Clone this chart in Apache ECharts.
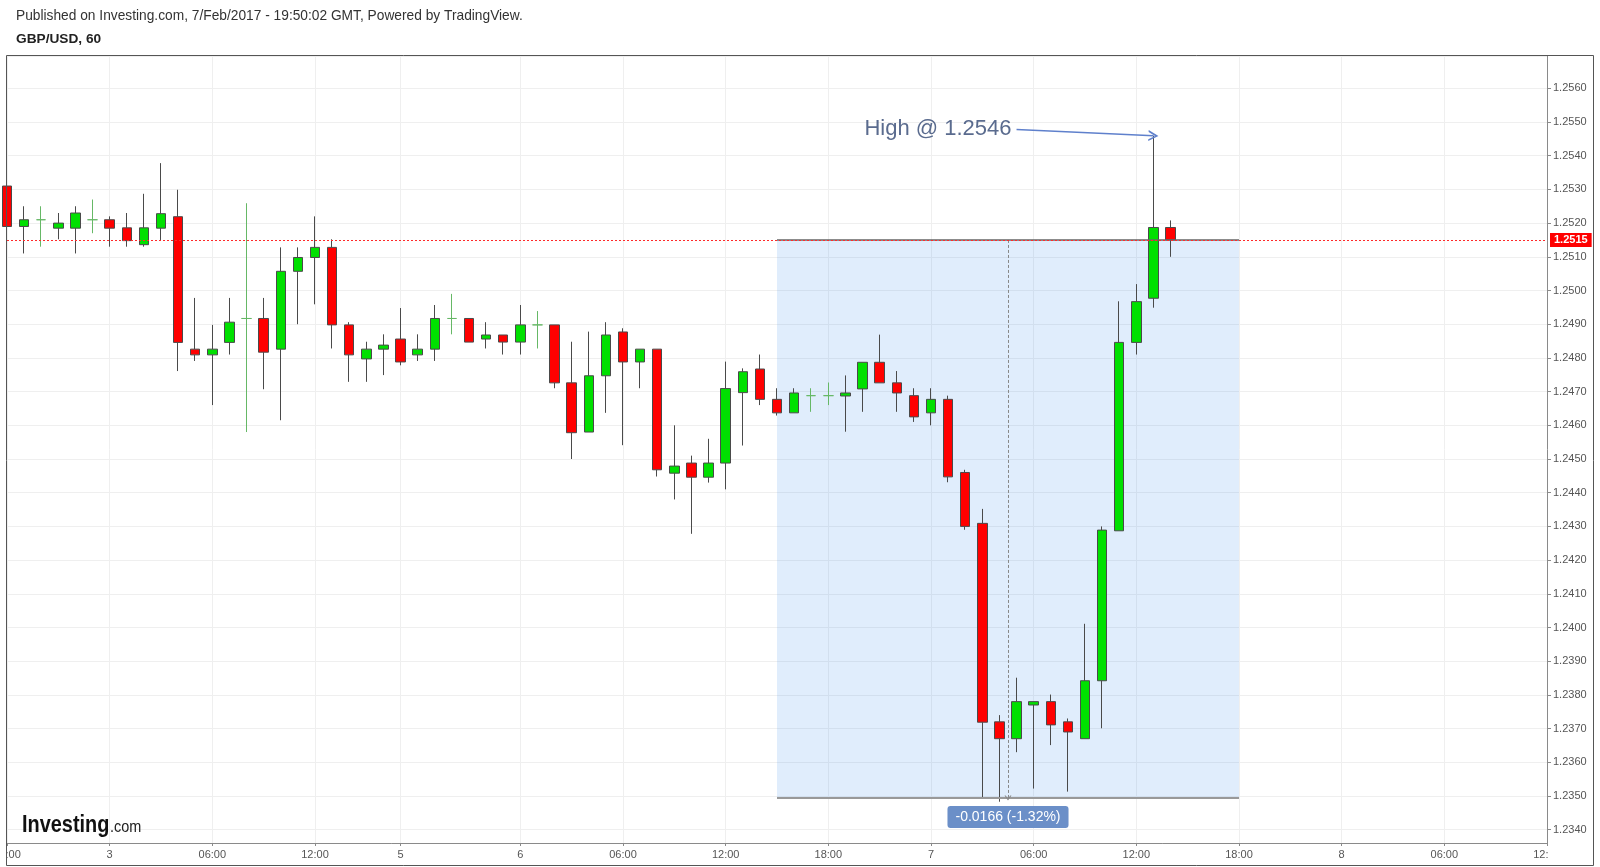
<!DOCTYPE html>
<html><head><meta charset="utf-8">
<script src="https://cdn.jsdelivr.net/npm/echarts@6/dist/echarts.min.js"></script>
<style>html,body{margin:0;padding:0;background:#fff}#c{width:1600px;height:867px}</style>
</head><body><div id="c"></div>
<script>
// Hourly bars (chart time), weekend gap removed as on the original
const categories = [
 'Feb 2 18:00','Feb 2 19:00','Feb 2 20:00','Feb 2 21:00','Feb 2 22:00','Feb 2 23:00',
 'Feb 3 00:00','Feb 3 01:00','Feb 3 02:00','Feb 3 03:00','Feb 3 04:00','Feb 3 05:00','Feb 3 06:00','Feb 3 07:00','Feb 3 08:00','Feb 3 09:00','Feb 3 10:00','Feb 3 11:00','Feb 3 12:00','Feb 3 13:00','Feb 3 14:00','Feb 3 15:00','Feb 3 16:00',
 'Feb 5 17:00','Feb 5 18:00','Feb 5 19:00','Feb 5 20:00','Feb 5 21:00','Feb 5 22:00','Feb 5 23:00',
 'Feb 6 00:00','Feb 6 01:00','Feb 6 02:00','Feb 6 03:00','Feb 6 04:00','Feb 6 05:00','Feb 6 06:00','Feb 6 07:00','Feb 6 08:00','Feb 6 09:00','Feb 6 10:00','Feb 6 11:00','Feb 6 12:00','Feb 6 13:00','Feb 6 14:00','Feb 6 15:00','Feb 6 16:00','Feb 6 17:00','Feb 6 18:00','Feb 6 19:00','Feb 6 20:00','Feb 6 21:00','Feb 6 22:00','Feb 6 23:00',
 'Feb 7 00:00','Feb 7 01:00','Feb 7 02:00','Feb 7 03:00','Feb 7 04:00','Feb 7 05:00','Feb 7 06:00','Feb 7 07:00','Feb 7 08:00','Feb 7 09:00','Feb 7 10:00','Feb 7 11:00','Feb 7 12:00','Feb 7 13:00','Feb 7 14:00','Feb 7 15:00','Feb 7 16:00','Feb 7 17:00','Feb 7 18:00','Feb 7 19:00','Feb 7 20:00','Feb 7 21:00','Feb 7 22:00','Feb 7 23:00',
 'Feb 8 00:00','Feb 8 01:00','Feb 8 02:00','Feb 8 03:00','Feb 8 04:00','Feb 8 05:00','Feb 8 06:00','Feb 8 07:00','Feb 8 08:00','Feb 8 09:00','Feb 8 10:00','Feb 8 11:00','Feb 8 12:00'
];
const opens  = [1.2531,1.2519,1.2521,1.25185,1.25185,1.2521,1.2521,1.25186,1.25136,1.25185,1.25219,1.24826,1.24809,1.24846,1.24917,1.24917,1.24826,1.25057,1.25098,1.25128,1.24898,1.24797,1.24826,
 1.24856,1.24809,1.24826,1.24917,1.24917,1.24856,1.24868,1.24847,1.24898,1.24898,1.24726,1.2458,1.24747,1.24877,1.24788,1.24826,1.24458,1.24488,1.24446,1.24488,1.24697,1.24767,1.24677,1.24637,1.24688,1.24688,1.24687,1.24708,1.24787,1.24726,1.24688,
 1.24637,1.24677,1.2446,1.24309,1.2372,1.2367,1.2377,1.2378,1.2372,1.2367,1.23842,1.24287,1.24846,1.24977,1.25187];
const closes = [1.2519,1.2521,1.2521,1.2520,1.2523,1.2521,1.25185,1.25148,1.25186,1.25228,1.24846,1.24809,1.24826,1.24906,1.24917,1.24817,1.25057,1.25098,1.25128,1.24898,1.24809,1.24826,1.24838,
 1.24788,1.24826,1.24917,1.24917,1.24847,1.24868,1.24847,1.24898,1.24898,1.24726,1.24578,1.24747,1.24868,1.24788,1.24826,1.24468,1.24479,1.24446,1.24488,1.24709,1.24759,1.24677,1.24637,1.24696,1.24688,1.24688,1.24696,1.24787,1.24726,1.24696,1.24625,
 1.24677,1.24447,1.2430,1.23719,1.2367,1.2378,1.2378,1.23711,1.2369,1.23842,1.24289,1.24846,1.24967,1.25187,1.2515];
const lows   = [1.2518,1.2511,1.2513,1.25152,1.2511,1.2517,1.2513,1.2513,1.2513,1.2515,1.24761,1.24791,1.2466,1.2481,1.2458,1.24707,1.24615,1.2490,1.24959,1.24828,1.24729,1.24729,1.24749,
 1.24778,1.24791,1.24791,1.2487,1.24847,1.24828,1.2481,1.2481,1.24828,1.2471,1.2450,1.2458,1.24637,1.24541,1.2471,1.24448,1.2438,1.24278,1.2443,1.2441,1.2454,1.2466,1.24629,1.24637,1.2464,1.2466,1.24581,1.2464,1.24726,1.2464,1.2461,
 1.2460,1.24431,1.2429,1.23493,1.23483,1.2363,1.23522,1.23651,1.23513,1.2367,1.23701,1.24287,1.2481,1.24949,1.2510];
const highs  = [1.2532,1.2525,1.2525,1.2523,1.2525,1.2527,1.2522,1.2523,1.25287,1.25378,1.25299,1.24978,1.24898,1.24978,1.25259,1.24978,1.25128,1.25128,1.2522,1.25152,1.24906,1.24848,1.2487,
 1.24948,1.2487,1.24957,1.2499,1.24917,1.24906,1.24868,1.24957,1.24939,1.24898,1.24848,1.24878,1.24906,1.24888,1.24826,1.24826,1.2460,1.2451,1.2456,1.24789,1.24769,1.2481,1.2471,1.2471,1.2471,1.24727,1.24748,1.24787,1.24869,1.24761,1.2471,
 1.2471,1.24688,1.24468,1.24352,1.2374,1.23851,1.2378,1.23801,1.2373,1.24011,1.2430,1.24968,1.25019,1.25459,1.25208];
// Time-axis tick labels
const tickCategories = ['Feb 2 18:00','Feb 3 00:00','Feb 3 06:00','Feb 3 12:00','Feb 5 17:00','Feb 6 00:00','Feb 6 06:00','Feb 6 12:00','Feb 6 18:00','Feb 7 00:00','Feb 7 06:00','Feb 7 12:00','Feb 7 18:00','Feb 8 00:00','Feb 8 06:00','Feb 8 12:00'];
const tickTexts      = ['18:00','3','06:00','12:00','5','6','06:00','12:00','18:00','7','06:00','12:00','18:00','8','06:00','12:00'];
// Price-range drawing and note
const rangeFrom = 'Feb 6 15:00';
const rangeTo = 'Feb 7 18:00';
const rangeBottomPrice = 1.23494;
const noteAnchorCategory = 'Feb 7 05:00';
const noteAnchorPrice = 1.25478;

const lastClose = closes[closes.length - 1];
const maxHigh = Math.max(...highs);
const iHigh = highs.indexOf(maxHigh);
const iFrom = categories.indexOf(rangeFrom);
const iTo = categories.indexOf(rangeTo);
const iMid = (iFrom + iTo) / 2;
const iNote = categories.indexOf(noteAnchorCategory);
const iLast = categories.length - 1;
const rangeDiff = rangeBottomPrice - lastClose;
const rangeText = rangeDiff.toFixed(4) + ' (' + (rangeDiff / lastClose * 100).toFixed(2) + '%)';

const FONT = 'Liberation Sans';
const chevron = 'path://M0,10 L5,0 L10,10 L8.3,10 L5,3.4 L1.7,10 Z';
const isTick = (idx, val) => tickCategories.indexOf(val) >= 0;

const chart = echarts.init(document.getElementById('c'), null, {renderer: 'canvas'});
chart.setOption({
  animation: false,
  backgroundColor: '#ffffff',
  textStyle: {fontFamily: FONT},
  grid: {left: 7, right: 53, top: 56, bottom: 24, containLabel: false, outerBoundsMode: 'none'},
  xAxis: [{
    type: 'category', data: categories, boundaryGap: false,
    axisLine: {onZero: false, lineStyle: {color: '#8a8a8a', width: 1}},
    axisTick: {show: true, length: 3, interval: isTick, lineStyle: {color: '#8a8a8a'}},
    axisLabel: {interval: isTick, formatter: v => tickTexts[tickCategories.indexOf(v)] || '', color: '#555', fontSize: 11, fontFamily: FONT, margin: 6},
    splitLine: {show: true, interval: isTick, lineStyle: {color: '#efefef', width: 1}}
  }, {
    type: 'value', min: 0, max: iLast, show: false
  }],
  yAxis: {
    type: 'value', position: 'right', min: 1.233605, max: 1.256959,
    splitNumber: 23, minInterval: 0.001, maxInterval: 0.001,
    axisLine: {show: true, onZero: false, lineStyle: {color: '#8a8a8a', width: 1}},
    axisTick: {show: true, length: 4, lineStyle: {color: '#8a8a8a'}},
    axisLabel: {formatter: v => v.toFixed(4), showMinLabel: false, showMaxLabel: false, color: '#555', fontSize: 11, fontFamily: FONT, margin: 6},
    splitLine: {show: true, lineStyle: {color: '#efefef', width: 1}}
  },
  series: [{
    type: 'candlestick', name: 'GBP/USD',
    data: opens.map((o, i) => [o, closes[i], lows[i], highs[i]]),
    barWidth: 10, silent: true, z: 3,
    itemStyle: {color: '#00e000', color0: '#ff0000', borderColor: '#4a4a4a', borderColor0: '#4a4a4a', borderColorDoji: '#66b866', borderWidth: 1}
  }, {
    type: 'line', xAxisIndex: 1, data: [], silent: true, symbol: 'none', clip: false, z: 1,
    markArea: {silent: true, itemStyle: {color: 'rgba(0,110,230,0.12)'},
      data: [[{coord: [iFrom, lastClose]}, {coord: [iTo, rangeBottomPrice]}]]},
    markLine: {silent: true, symbol: 'none', label: {show: false},
      data: [
        [{coord: [iFrom, lastClose], lineStyle: {color: '#666', width: 1.5, type: 'solid'}}, {coord: [iTo, lastClose], lineStyle: {color: '#666', width: 1.5, type: 'solid'}}],
        [{coord: [iFrom, rangeBottomPrice], lineStyle: {color: '#999', width: 2, type: 'solid'}}, {coord: [iTo, rangeBottomPrice], lineStyle: {color: '#999', width: 2, type: 'solid'}}]
      ]}
  }, {
    type: 'line', xAxisIndex: 1, data: [], silent: true, symbol: 'none', clip: false, z: 4,
    markLine: {silent: true, symbol: ['none', chevron], symbolSize: [7, 5],
      lineStyle: {color: '#888', width: 1, type: [3, 2]},
      label: {show: true, position: 'end', distance: 8, formatter: rangeText, color: '#fff', fontSize: 14, fontFamily: FONT, lineHeight: 14,
        backgroundColor: '#6b8fc8', padding: [4, 8], borderRadius: 3},
      data: [[{coord: [iMid, lastClose]}, {coord: [iMid, rangeBottomPrice]}]]}
  }, {
    type: 'line', xAxisIndex: 1, data: [], silent: true, symbol: 'none', clip: false, z: 5,
    markLine: {silent: true, symbol: 'none',
      lineStyle: {color: '#ff2a2a', width: 1, type: [2, 2]},
      label: {show: true, position: 'end', distance: 3, formatter: lastClose.toFixed(4), color: '#fff', fontWeight: 'bold', fontSize: 11, fontFamily: FONT,
        backgroundColor: '#ff0000', padding: [2, 4, 1, 4]},
      data: [[{coord: [0, lastClose]}, {coord: [iLast, lastClose]}]]}
  }, {
    type: 'line', xAxisIndex: 1, data: [], silent: true, symbol: 'none', clip: false, z: 6,
    markLine: {silent: true, symbol: ['none', chevron], symbolSize: [11, 10],
      lineStyle: {color: '#5f80cc', width: 1.5, type: 'solid'},
      label: {show: true, position: 'start', distance: 5, formatter: 'High @ ' + maxHigh.toFixed(4), color: '#5a6b8e', fontSize: 22, fontFamily: FONT},
      data: [[{coord: [iNote, noteAnchorPrice]}, {coord: [iHigh, maxHigh]}]]}
  }],
  graphic: [
    {type: 'text', left: 16, top: 9, z: 100, style: {text: 'Published on Investing.com, 7/Feb/2017 - 19:50:02 GMT, Powered by TradingView.', font: '13.75px "Liberation Sans"', fill: '#333'}},
    {type: 'text', left: 16, top: 32, z: 100, style: {text: 'GBP/USD, 60', font: 'bold 13.7px "Liberation Sans"', fill: '#222'}},
    {type: 'rect', z: 90, shape: {x: 0, y: 844, width: 6.5, height: 23}, style: {fill: '#fff'}},
    {type: 'rect', z: 90, shape: {x: 1548, y: 844, width: 52, height: 23}, style: {fill: '#fff'}},
    {type: 'rect', z: 100, shape: {x: 6.5, y: 55.5, width: 1587, height: 810}, style: {fill: 'none', stroke: '#555', lineWidth: 1}},
    {type: 'text', z: 100, x: 22, y: 813, scaleX: 0.83, style: {text: 'Investing', font: 'bold 24px "Liberation Sans"', fill: '#111'}},
    {type: 'text', z: 100, x: 110, y: 819, scaleX: 0.85, style: {text: '.com', font: '17px "Liberation Sans"', fill: '#222'}}
  ]
});
</script></body></html>
